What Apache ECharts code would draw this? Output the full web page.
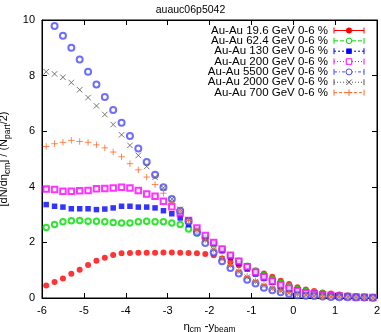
<!DOCTYPE html>
<html>
<head>
<meta charset="utf-8">
<script src="https://cdn.jsdelivr.net/npm/echarts@6/dist/echarts.min.js"></script>
<style>html,body{margin:0;padding:0;background:#fff}#c{width:381px;height:332px}</style>
</head>
<body>
<div id="c"></div>
<script>
// ---- data ----
var titleText = 'auauc06p5042';
var eta = [-5.9,-5.7,-5.5,-5.3,-5.1,-4.9,-4.7,-4.5,-4.3,-4.1,-3.9,-3.7,-3.5,-3.3,-3.1,-2.9,-2.7,-2.5,-2.3,-2.1,-1.9,-1.7,-1.5,-1.3,-1.1,-0.9,-0.7,-0.5,-0.3,-0.1,0.1,0.3,0.5,0.7,0.9,1.1,1.3,1.5,1.7,1.9];
var seriesNames = ['Au-Au 19.6 GeV 0-6 %','Au-Au 62.4 GeV 0-6 %','Au-Au 130 GeV 0-6 %','Au-Au 200 GeV 0-6 %','Au-Au 5500 GeV 0-6 %','Au-Au 2000 GeV 0-6 %','Au-Au 700 GeV 0-6 %'];
var v19 = [0.45,0.58,0.70,0.87,1.02,1.19,1.34,1.45,1.55,1.61, 1.62,1.63,1.63,1.63,1.64,1.64,1.63,1.62,1.61,1.58, 1.54,1.42,1.30,1.18,1.07,0.98,0.88,0.76,0.62,0.50, 0.39,0.31,0.25,0.20,0.16,0.13,0.09,0.06,0.04,0.03];
var v62 = [2.54,2.64,2.74,2.78,2.79,2.76,2.76,2.74,2.72,2.70, 2.70,2.74,2.76,2.74,2.74,2.70,2.64,2.48,2.34,2.16, 1.95,1.74,1.52,1.32,1.14,0.97,0.81,0.66,0.53,0.41, 0.31,0.24,0.19,0.15,0.11,0.08,0.06,0.04,0.03,0.02];
var v130 = [3.36,3.30,3.27,3.21,3.21,3.21,3.18,3.20,3.24,3.30, 3.30,3.27,3.27,3.24,3.14,3.03,2.88,2.64,2.40,2.16, 1.96,1.70,1.46,1.24,1.04,0.86,0.70,0.56,0.42,0.30, 0.22,0.16,0.13,0.10,0.08,0.06,0.05,0.04,0.03,0.02];
var v200 = [3.92,3.90,3.84,3.84,3.86,3.87,3.93,3.94,3.96,3.98, 3.96,3.87,3.74,3.66,3.48,3.28,3.06,2.79,2.52,2.25, 2.00,1.76,1.54,1.32,1.12,0.93,0.76,0.60,0.47,0.35, 0.26,0.19,0.15,0.12,0.09,0.07,0.05,0.04,0.03,0.02];
var v5500 = [null,9.78,9.43,9.00,8.58,8.14,7.68,7.23,6.76,6.30, 5.83,5.38,4.89,4.43,3.98,3.56,3.14,2.76,2.36,1.98, 1.64,1.32,1.08,0.88,0.66,0.52,0.37,0.28,0.21,0.14, 0.10,0.08,0.07,0.05,0.04,0.03,0.03,0.02,0.02,0.01];
var v2000 = [8.14,8.06,7.94,7.75,7.49,7.21,6.91,6.60,6.24,5.87, 5.49,5.13,4.73,4.34,3.96,3.56,3.19,2.82,2.46,2.10, 1.74,1.42,1.17,0.95,0.75,0.59,0.45,0.34,0.26,0.19, 0.14,0.11,0.08,0.06,0.05,0.04,0.03,0.02,0.02,0.01];
var v700 = [5.45,5.55,5.60,5.67,5.63,5.60,5.51,5.40,5.25,5.08, 4.83,4.61,4.35,4.08,3.77,3.45,3.12,2.78,2.44,2.09, 1.76,1.45,1.20,0.98,0.78,0.62,0.48,0.37,0.28,0.20, 0.15,0.11,0.09,0.07,0.05,0.04,0.03,0.02,0.02,0.01];
var xTicks = [-6,-5,-4,-3,-2,-1,0,1,2];
var yTicks = [0,2,4,6,8,10];

// ---- styles ----
var FONT = 'Liberation Sans';
var colors = ['#ff0000','#00dd00','#0000ff','#ff00ff','#4a4aff','#555555','#ff6a2a'];
var symbols = ['circle','emptyCircle','rect','emptyRect','emptyCircle','path://M0,0L10,10M10,0L0,10','path://M5,0L5,10M0,5L10,5'];
var sizes = [6,5.5,5.5,5.5,6,5.5,6.5];
var dashes = [null,[4,2],[2,2],[1,2],[3,2,1,2],[1,2],[3,2]];
var allVals = [v19,v62,v130,v200,v5500,v2000,v700];

function pairs(vals){ var out=[]; for(var i=0;i<eta.length;i++){ if(vals[i]!==null) out.push([eta[i], vals[i]]); } return out; }

var series = allVals.map(function(vals, i){
  var isPath = symbols[i].indexOf('path://')===0;
  var filled = (symbols[i]==='circle'||symbols[i]==='rect');
  return {
    type:'scatter', name: seriesNames[i], data: pairs(vals),
    symbol: symbols[i], symbolSize: sizes[i], xAxisIndex:0, yAxisIndex:0,
    itemStyle: isPath ? {color:'rgba(0,0,0,0)', borderColor: colors[i], borderWidth:1} :
               (filled ? {color: colors[i]} : {color: colors[i], borderWidth:1}),
    emphasis:{disabled:true}, z: 2+i, animation:false
  };
});

// legend built with graphic elements (gnuplot-style key)
var graphic = [];
var keyTextRight = 328, lineX0 = 334, lineX1 = 364, markX = 349, rowY0 = 30.5, rowDy = 10.35;
seriesNames.forEach(function(name, i){
  var y = rowY0 + rowDy*i;
  graphic.push({type:'text', x: keyTextRight, y: y, silent:true,
    style:{text:name, align:'right', verticalAlign:'middle', fill:'#000', font:'11.5px "'+FONT+'"'}});
});
seriesNames.forEach(function(name, i){
  var y = rowY0 + rowDy*i, c = colors[i];
  var ls = {stroke:c, lineWidth:1};
  if(dashes[i]) ls.lineDash = dashes[i];
  graphic.push({type:'line', silent:true, shape:{x1:lineX0,y1:y,x2:lineX1,y2:y}, style:ls});
  graphic.push({type:'line', silent:true, shape:{x1:lineX0,y1:y-3,x2:lineX0,y2:y+3}, style:{stroke:c,lineWidth:1}});
  graphic.push({type:'line', silent:true, shape:{x1:lineX1,y1:y-3,x2:lineX1,y2:y+3}, style:{stroke:c,lineWidth:1}});
  var s = symbols[i], r = sizes[i]/2;
  if(s==='circle') graphic.push({type:'circle', silent:true, shape:{cx:markX,cy:y,r:r}, style:{fill:c}});
  else if(s==='emptyCircle') graphic.push({type:'circle', silent:true, shape:{cx:markX,cy:y,r:r}, style:{fill:'#fff',stroke:c,lineWidth:1}});
  else if(s==='rect') graphic.push({type:'rect', silent:true, shape:{x:markX-r,y:y-r,width:2*r,height:2*r}, style:{fill:c}});
  else if(s==='emptyRect') graphic.push({type:'rect', silent:true, shape:{x:markX-r,y:y-r,width:2*r,height:2*r}, style:{fill:'#fff',stroke:c,lineWidth:1}});
  else if(i===5){ graphic.push({type:'polyline', silent:true, shape:{points:[[markX-r,y-r],[markX+r,y+r]]}, style:{stroke:c,lineWidth:1}});
                  graphic.push({type:'polyline', silent:true, shape:{points:[[markX+r,y-r],[markX-r,y+r]]}, style:{stroke:c,lineWidth:1}}); }
  else { graphic.push({type:'polyline', silent:true, shape:{points:[[markX-r,y],[markX+r,y]]}, style:{stroke:c,lineWidth:1}});
         graphic.push({type:'polyline', silent:true, shape:{points:[[markX,y-r],[markX,y+r]]}, style:{stroke:c,lineWidth:1}}); }
});

var tickStyle = {show:true, inside:true, length:5, lineStyle:{color:'#000', width:1}};
var option = {
  animation:false,
  backgroundColor:'#fff',
  textStyle:{fontFamily:FONT},
  title:{text:titleText, left:'center', top:0, textStyle:{fontSize:10.5, fontWeight:'normal', color:'#000', fontFamily:FONT}},
  grid:{left:42, right:4, top:20, bottom:34, containLabel:false, outerBoundsMode:'none', show:true, borderColor:'#000', borderWidth:1, backgroundColor:'transparent'},
  xAxis:[
    {type:'value', min:xTicks[0], max:xTicks[xTicks.length-1], interval:1, position:'bottom',
     axisLine:{show:true, onZero:false, lineStyle:{color:'#000'}}, axisTick:tickStyle, splitLine:{show:false},
     axisLabel:{color:'#000', fontSize:11, margin:7, fontFamily:FONT},
     name:'{g|η}{s|cm} -{g|y}{s|beam}', nameLocation:'middle', nameGap:17,
     nameTextStyle:{color:'#000', fontFamily:FONT, rich:{g:{fontSize:11.5, fontFamily:FONT}, s:{fontSize:8.5, fontFamily:FONT, padding:[6,0,0,0]}}}},
    {type:'value', min:xTicks[0], max:xTicks[xTicks.length-1], interval:1, position:'top',
     axisLine:{show:true, onZero:false, lineStyle:{color:'#000'}}, axisTick:tickStyle, splitLine:{show:false}, axisLabel:{show:false}}
  ],
  yAxis:[
    {type:'value', min:yTicks[0], max:yTicks[yTicks.length-1], interval:2, position:'left',
     axisLine:{show:true, onZero:false, lineStyle:{color:'#000'}}, axisTick:tickStyle, splitLine:{show:false},
     axisLabel:{color:'#000', fontSize:11, margin:7, fontFamily:FONT},
     name:'[dN/d{g|η}{s|cm}] / (N{s|part}/2)', nameLocation:'middle', nameGap:20, nameRotate:90,
     nameTextStyle:{color:'#000', fontSize:11, fontFamily:FONT, rich:{g:{fontSize:11, fontFamily:FONT}, s:{fontSize:8.5, fontFamily:FONT, padding:[6,0,0,0]}}}},
    {type:'value', min:yTicks[0], max:yTicks[yTicks.length-1], interval:2, position:'right',
     axisLine:{show:true, onZero:false, lineStyle:{color:'#000'}}, axisTick:tickStyle, splitLine:{show:false}, axisLabel:{show:false}}
  ],
  series: series,
  graphic: graphic
};
var chart = echarts.init(document.getElementById('c'), null, {renderer:'canvas'});
chart.setOption(option);
</script>
</body>
</html>
